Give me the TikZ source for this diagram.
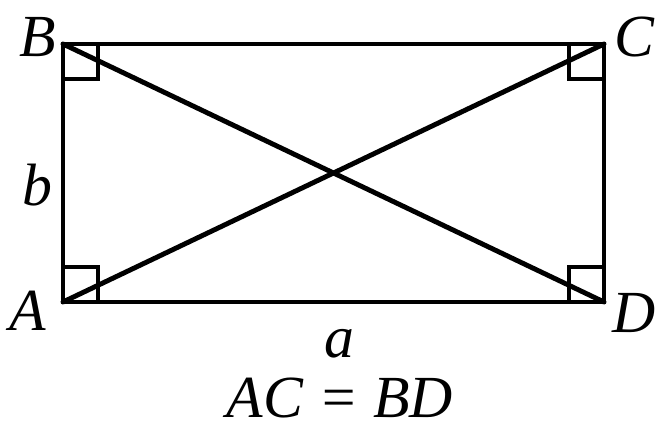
\documentclass[tikz,border=0pt]{standalone}
\usepackage{fontspec}
\setmainfont{Liberation Serif}
\usepackage{tikz}
\usetikzlibrary{calc}

\begin{document}
\begin{tikzpicture}[
    side/.style={line width=2.8pt, line cap=round, line join=miter},
    anglemark/.style={line width=2pt},
    lbl/.style={font=\fontsize{34}{40}\selectfont\itshape, inner sep=0pt},
]
\useasboundingbox (0,0) rectangle (13.18,8.6);

\coordinate (A) at (1.26,2.56);
\coordinate (B) at (1.26,7.72);
\coordinate (C) at (12.08,7.72);
\coordinate (D) at (12.08,2.56);

\draw[side] (A) -- (B) -- (C) -- (D) -- cycle;
\draw[side] (A) -- (C);
\draw[side] (B) -- (D);

\foreach \c/\dx/\dy in {A/1/1, B/1/-1, C/-1/-1, D/-1/1} {
    \draw[anglemark] (\c) ++(0,\dy*0.7) -| ++(\dx*0.7,-\dy*0.7);
}

\node[lbl] (labA) at (0.56,2.38) {A};
\node[lbl] (labB) at (0.76,7.86) {B};
\node[lbl] (labC) at (12.68,7.86) {C};
\node[lbl] (labD) at (12.68,2.34) {D};
\node[lbl] (labb) at (0.74,4.90) {b};
\node[lbl] (laba) at (6.78,1.72) {a};
\node[lbl] (eq) at (6.80,0.64) {AC = BD};
\end{tikzpicture}
\end{document}
